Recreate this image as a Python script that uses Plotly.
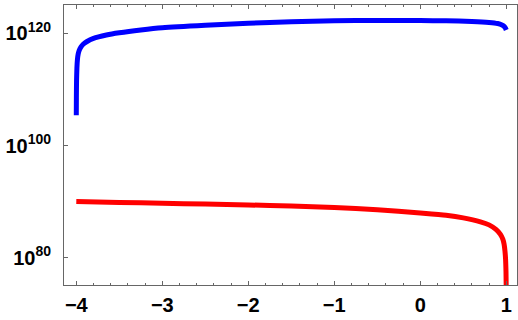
import plotly.graph_objects as go

# Blue curve: x and log10(y)
blue_x = [-4.0, -3.999, -3.997, -3.993, -3.987, -3.978, -3.965, -3.945, -3.92, -3.88,
          -3.8, -3.65, -3.5, -3.25, -3.0, -2.5, -2.0, -1.5, -1.0, -0.5, 0.0,
          0.3, 0.6, 0.8, 0.9, 0.95, 0.975, 0.99, 1.0]
blue_exp = [105.4, 108.5, 111.5, 113.8, 115.3, 116.3, 117.0, 117.6, 118.05, 118.5,
            119.1, 119.7, 120.1, 120.6, 121.0, 121.45, 121.8, 122.05, 122.25, 122.3, 122.27,
            122.22, 122.12, 121.95, 121.75, 121.5, 121.25, 120.95, 120.6]

# Red curve: x and log10(y)
red_x = [-4.0, -3.5, -3.0, -2.5, -2.0, -1.5, -1.0, -0.5, 0.0, 0.3, 0.5, 0.7,
         0.8, 0.88, 0.93, 0.96, 0.975, 0.985, 0.992, 0.997, 1.0]
red_exp = [90.0, 89.85, 89.7, 89.55, 89.4, 89.2, 88.95, 88.55, 87.95, 87.55, 87.1, 86.4,
           85.85, 85.05, 84.2, 83.3, 82.4, 81.2, 79.8, 77.5, 74.0]

ytick_exp = [80, 100, 120]
ytick_text = ["10<sup>80</sup>", "10<sup>100</sup>", "10<sup>120</sup>"]
xtick_vals = [-4, -3, -2, -1, 0, 1]
xtick_text = ["\u22124", "\u22123", "\u22122", "\u22121", "0", "1"]
right_tick_exp = [120.0, 110.8, 101.7, 92.6, 83.7]

fig = go.Figure()
fig.add_trace(go.Scatter(x=blue_x, y=[10.0 ** e for e in blue_exp], mode="lines",
                         line=dict(color="#0000ff", width=5, shape="spline", smoothing=0.6),
                         hoverinfo="skip"))
fig.add_trace(go.Scatter(x=red_x, y=[10.0 ** e for e in red_exp], mode="lines",
                         line=dict(color="#ff0000", width=5, shape="spline", smoothing=0.6),
                         hoverinfo="skip"))

axis_color = "#666666"
tfont = dict(family="Liberation Sans, Arial, sans-serif", size=20, color="black", weight="bold")

fig.update_layout(
    width=518, height=320,
    margin=dict(l=64, r=1, t=5, b=35, autoexpand=False),
    paper_bgcolor="white", plot_bgcolor="white",
    showlegend=False,
    xaxis=dict(range=[-4.143, 1.125], tickvals=xtick_vals, ticktext=xtick_text,
               ticks="inside", ticklen=4, tickcolor=axis_color, tickwidth=1,
               showline=True, linecolor=axis_color, linewidth=1, mirror="allticks",
               showgrid=False, zeroline=False, automargin=False, tickfont=tfont,
               ticklabelstandoff=2,
               minor=dict(dtick=0.2, tick0=0, ticks="inside", ticklen=2, tickcolor=axis_color, showgrid=False)),
    yaxis=dict(type="log", range=[75.13, 125.05],
               tickvals=[10.0 ** e for e in ytick_exp], ticktext=ytick_text,
               ticks="inside", ticklen=4, tickcolor=axis_color, tickwidth=1,
               showline=True, linecolor=axis_color, linewidth=1, mirror=True,
               showgrid=False, zeroline=False, automargin=False, tickfont=tfont,
               ticklabelstandoff=8),
    yaxis2=dict(overlaying="y", side="right", range=[75.13, 125.05],
                tickvals=right_tick_exp, showticklabels=False, automargin=False,
                ticks="inside", ticklen=4, tickcolor=axis_color,
                showgrid=False, zeroline=False, showline=False),
)

fig.write_html("out.html", config={"displayModeBar": False},
               post_script="document.body.style.margin='0';document.body.style.overflow='hidden';")
